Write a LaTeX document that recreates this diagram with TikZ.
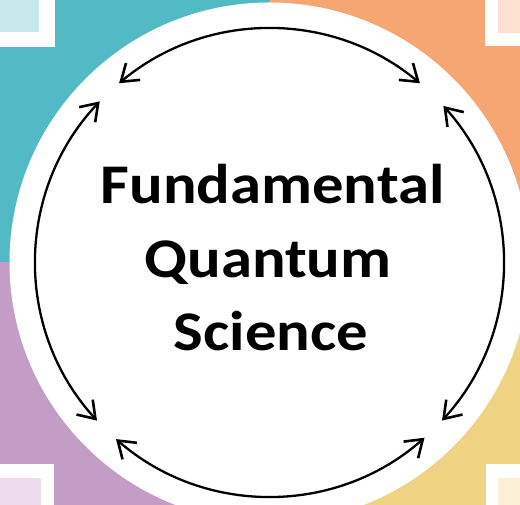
\documentclass[tikz,border=0pt]{standalone}
\usepackage{fontspec}
\setmainfont{Carlito}
\usetikzlibrary{arrows.meta,calc}
\definecolor{teal1}{HTML}{52BAC4}
\definecolor{orange1}{HTML}{F5A673}
\definecolor{purple1}{HTML}{C49DC6}
\definecolor{yellow1}{HTML}{F0D382}
\definecolor{teal2}{HTML}{C6E8EC}
\definecolor{orange2}{HTML}{FCE1D1}
\definecolor{purple2}{HTML}{EDDCEE}
\definecolor{yellow2}{HTML}{FBF0D5}
\tikzset{
  barb/.tip={Straight Barb[length=16pt,width=22pt,line width=2.6pt]},
  cyclearrow/.style={line width=2.3pt, barb-barb},
  titletext/.style={font=\bfseries\fontsize{56}{73.5}\selectfont, anchor=base, inner sep=0pt}
}
\newcommand{\widetext}[1]{\scalebox{1.12}[1]{#1}}
\begin{document}
\begin{tikzpicture}[x=1pt,y=1pt]
\useasboundingbox (0,0) rectangle (520,505);
\clip (0,0) rectangle (520,505);
% quadrants
\fill[teal1] (0,243) rectangle (270,505);
\fill[orange1] (270,243) rectangle (520,505);
\fill[purple1] (0,0) rectangle (270,243);
\fill[yellow1] (270,0) rectangle (520,243);
% corner boxes
\fill[white] (-20,458) rectangle (55,525);
\fill[teal2] (-20,473) rectangle (39,525);
\fill[white] (485,459) rectangle (540,525);
\fill[orange2] (498,472) rectangle (540,525);
\fill[white] (-20,-20) rectangle (54,41);
\fill[purple2] (-20,-20) rectangle (41,27);
\fill[white] (486,-20) rectangle (540,41);
\fill[yellow2] (498,-20) rectangle (540,27);
% white disc
\coordinate (c) at (269.5,242.5);
\fill[white] (c) circle[radius=260];
% cycle arrows
\draw[cyclearrow] ($(c)+(50:234)$) arc[start angle=50, end angle=130, radius=234];
\draw[cyclearrow] ($(c)+(136.5:234)$) arc[start angle=136.5, end angle=222.5, radius=234];
\draw[cyclearrow] ($(c)+(229:234)$) arc[start angle=229, end angle=311.5, radius=234];
\draw[cyclearrow] ($(c)+(-42.5:234)$) arc[start angle=-42.5, end angle=42, radius=234];
% title
\node[titletext] (t1) at (272.5,301) {\widetext{Fundamental}};
\node[titletext] (t2) at (268,227) {\widetext{Quantum}};
\node[titletext] (t3) at (271,154) {\widetext{Science}};
\end{tikzpicture}
\end{document}
